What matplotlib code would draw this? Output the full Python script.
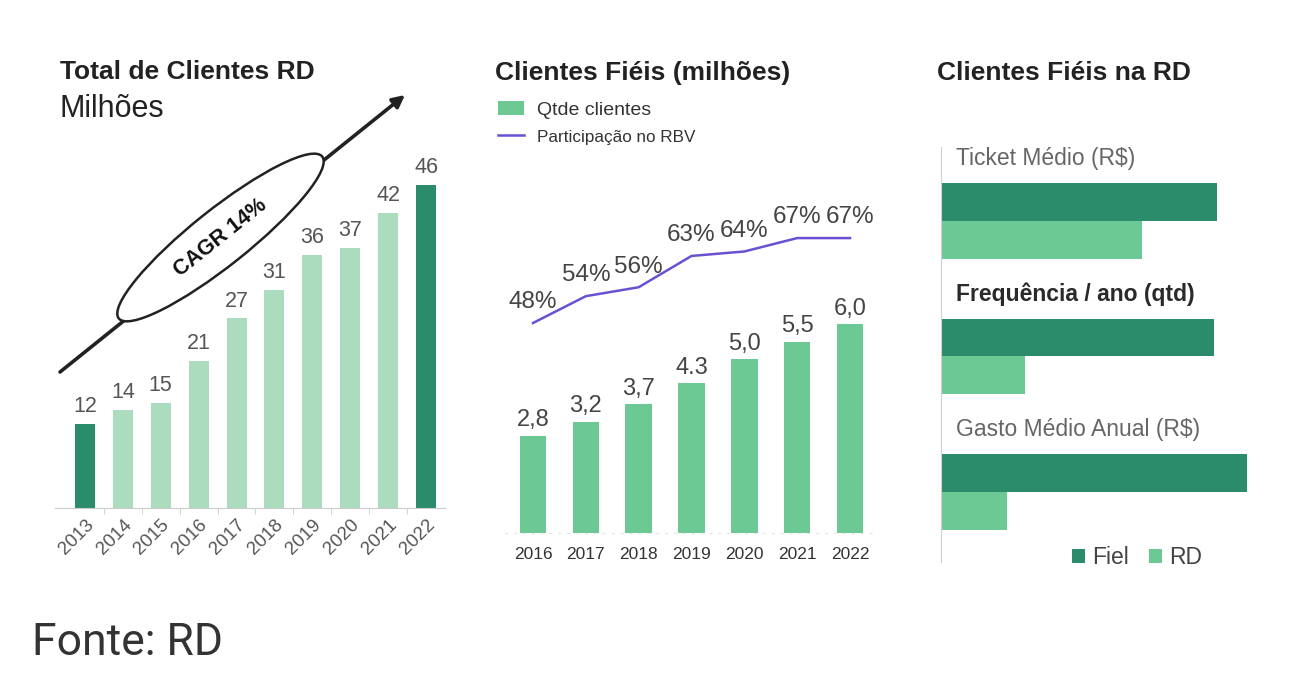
import numpy as np
import matplotlib.pyplot as plt
from matplotlib.patches import Ellipse, Patch
from matplotlib.lines import Line2D

plt.rcParams["font.family"] = ["Liberation Sans", "DejaVu Sans"]

# data
anos_total = ["2013", "2014", "2015", "2016", "2017", "2018", "2019", "2020", "2021", "2022"]
clientes_total = [12, 14, 15, 21, 27, 31, 36, 37, 42, 46]

anos_fieis = ["2016", "2017", "2018", "2019", "2020", "2021", "2022"]
clientes_fieis = [2.8, 3.2, 3.7, 4.3, 5.0, 5.5, 6.0]
rotulos_fieis = ["2,8", "3,2", "3,7", "4.3", "5,0", "5,5", "6,0"]
part_rbv = [48, 54, 56, 63, 64, 67, 67]

indicadores = ["Ticket Médio (R$)", "Frequência / ano (qtd)", "Gasto Médio Anual (R$)"]
fiel = [276, 273, 306]   # relative lengths
rd = [201, 84, 66]

dark = "#2a8c6a"
mid = "#6cc994"
light = "#aadcbd"
purple = "#6a50d2"
gray = "#555555"

W, H = 1298, 696
fig = plt.figure(figsize=(W / 100, H / 100), dpi=100)


def box(left, top, right, bottom):
    return [left / W, 1 - bottom / H, (right - left) / W, (bottom - top) / H]


# ---- panel 1: total de clientes
ax1 = fig.add_axes(box(55, 90, 445, 508))
x1 = np.arange(len(anos_total))
cores = [dark if i in (0, len(x1) - 1) else light for i in x1]
ax1.bar(x1, clientes_total, width=0.53, color=cores)
for xi, v in zip(x1, clientes_total):
    ax1.annotate(str(v), (xi, v), xytext=(0, 5), textcoords="offset points",
                 ha="center", va="bottom", fontsize=15.5, color=gray)
ax1.set_xlim(-0.79, 9.5)
ax1.set_ylim(0, (508 - 90) / 7.02)
ax1.set_xticks(x1)
ax1.set_xticklabels(anos_total, rotation=45, ha="right", rotation_mode="anchor",
                    fontsize=13.5, color=gray)
ax1.tick_params(axis="x", length=0, pad=6)
ax1.set_xticks(x1[:-1] + 0.5, minor=True)
ax1.tick_params(axis="x", which="minor", length=4, color="#cccccc")
ax1.set_yticks([])
for s in ["top", "right", "left"]:
    ax1.spines[s].set_visible(False)
ax1.spines["bottom"].set_color("#cccccc")

# CAGR arrow and ellipse (figure inches)
ax1.annotate("", xy=(4.05, 6.01), xytext=(0.60, 3.24),
             xycoords=fig.dpi_scale_trans, textcoords=fig.dpi_scale_trans,
             arrowprops=dict(arrowstyle="-|>", lw=2.6, color="#222222",
                             mutation_scale=18, shrinkA=0, shrinkB=0))
ell = Ellipse((2.205, 4.585), 2.6, 0.56, angle=38.5, facecolor="white",
              edgecolor="#222222", lw=1.8, transform=fig.dpi_scale_trans, zorder=5)
fig.add_artist(ell)
fig.text(2.205 / 12.98, 4.585 / 6.96, "CAGR 14%", rotation=38.5, ha="center", va="center",
         fontsize=15.5, fontweight="bold", color="#111111", zorder=6)

fig.text(60 / W, 1 - 72 / H, "Total de Clientes RD", fontsize=19, fontweight="bold",
         color="#222222", va="center")
fig.text(60 / W, 1 - 109 / H, "Milhões", fontsize=22, color="#222222", va="center")

# ---- panel 2: clientes fiéis
ax2 = fig.add_axes(box(505, 160, 878, 533))
x2 = np.arange(len(anos_fieis))
ax2.bar(x2, clientes_fieis, width=0.5, color=mid)
for xi, v, t in zip(x2, clientes_fieis, rotulos_fieis):
    ax2.annotate(t, (xi, v), xytext=(0, 3), textcoords="offset points",
                 ha="center", va="bottom", fontsize=17, color="#444444")
ax2.set_xlim(-0.53, 6.53)
ax2.set_ylim(0, (533 - 160) / 34.8)
ax2.set_xticks(x2)
ax2.set_xticklabels(anos_fieis, fontsize=12.5, color="#333333")
ax2.tick_params(axis="x", length=0, pad=10)
ax2.set_yticks([])
for s in ["top", "right", "left"]:
    ax2.spines[s].set_visible(False)
ax2.spines["bottom"].set_color("#e6e6e6")
ax2.spines["bottom"].set_linestyle((0, (2, 6)))

ax2b = ax2.twinx()
ax2b.plot(x2, part_rbv, color=purple, lw=1.8)
for xi, p in zip(x2, part_rbv):
    ax2b.annotate(f"{p}%", (xi, p), xytext=(0, 7), textcoords="offset points",
                  ha="center", va="bottom", fontsize=17.5, color="#444444")
ax2b.set_ylim(48 - (533 - 323) / 4.47, 48 + (323 - 160) / 4.47)
ax2b.axis("off")

fig.text(495 / W, 1 - 73 / H, "Clientes Fiéis (milhões)", fontsize=19, fontweight="bold",
         color="#222222", va="center")
leg2 = fig.legend(handles=[Patch(facecolor=mid), Line2D([], [], color=purple, lw=1.8)],
                  labels=["Qtde clientes", "Participação no RBV"],
                  loc="upper left", bbox_to_anchor=(498 / W, 1 - 101 / H), frameon=False,
                  borderpad=0, borderaxespad=0, handlelength=1.34, handleheight=0.75,
                  handletextpad=0.67, labelspacing=0.45, fontsize=14)
leg2.get_texts()[1].set_fontsize(12.3)
for t in leg2.get_texts():
    t.set_color("#333333")

# ---- panel 3: clientes fiéis na RD
ax3 = fig.add_axes(box(941, 147, 1260, 562))
y3 = np.arange(len(indicadores))
bh = 0.28
ax3.barh(y3 - bh / 2, fiel, height=bh, color=dark, label="Fiel")
ax3.barh(y3 + bh / 2, rd, height=bh, color=mid, label="RD")
ax3.set_ylim(2.517, -0.546)
ax3.set_xlim(0, 319)
for yi, nome in zip(y3, indicadores):
    destaque = nome.startswith("Frequ")
    ax3.text(0.047, yi - 0.46, nome, transform=ax3.get_yaxis_transform(),
             fontsize=16.5, va="center",
             color="#2a2a2a" if destaque else "#666666",
             fontweight="bold" if destaque else "normal")
ax3.set_xticks([])
ax3.set_yticks([])
for s in ["top", "right", "bottom"]:
    ax3.spines[s].set_visible(False)
ax3.spines["left"].set_color("#cfcfcf")

fig.text(937 / W, 1 - 73 / H, "Clientes Fiéis na RD", fontsize=19, fontweight="bold",
         color="#222222", va="center")
leg3 = fig.legend(handles=[Patch(facecolor=dark), Patch(facecolor=mid)], labels=["Fiel", "RD"],
                  loc="center", bbox_to_anchor=(1137 / W, 1 - 558 / H), ncol=2, frameon=False,
                  borderpad=0, borderaxespad=0, handlelength=0.55, handleheight=0.55,
                  handletextpad=0.3, columnspacing=0.9, fontsize=16.5)
for t in leg3.get_texts():
    t.set_color("#444444")

fig.text(32 / W, 1 - 655 / H, "Fonte: RD", fontsize=32, color="#333333", va="baseline",
         family=["Roboto", "DejaVu Sans"])

fig.savefig("out.png", dpi=100, facecolor="white")
